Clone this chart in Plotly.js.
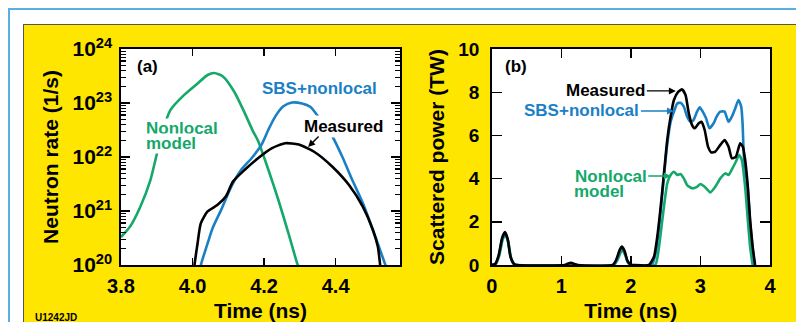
<!DOCTYPE html>
<html>
<head>
<meta charset="utf-8">
<script src="https://cdn.plot.ly/plotly-3.0.1.min.js"></script>
<style>
  html, body { margin: 0; padding: 0; background: #fff; }
  #wrap { position: relative; width: 796px; height: 322px; overflow: hidden; background: #fff; }
  #frameBlue { position: absolute; left: 8px; top: 8px; width: 900px; height: 400px; border: 2px solid #5aaee0; }
  #panelYellow { position: absolute; left: 23px; top: 24px; width: 900px; height: 400px; background: #ffe600; border-left: 1px solid #555; border-top: 1px solid #555; }
  #plot { position: absolute; left: 0; top: 0; width: 796px; height: 322px; }
</style>
</head>
<body>
<div id="wrap">
  <div id="frameBlue"></div>
  <div id="panelYellow"></div>
  <div id="plot"></div>
</div>
<script>
// ---------- Panel (a): neutron rate (1/s) vs time (ns) ----------
const a_nonlocal_t = [3.800, 3.825, 3.854, 3.882, 3.896, 3.915, 3.938, 3.976, 4.014, 4.042, 4.061, 4.085, 4.117, 4.146, 4.169, 4.183, 4.212, 4.240, 4.268, 4.292, 4.300];
const a_nonlocal_r = [3.3e20, 5.1e20, 1.2e21, 3.7e21, 8.7e21, 2.8e22, 7.4e22, 1.4e23, 2.3e23, 3.3e23, 3.6e23, 3.1e23, 1.6e23, 6.5e22, 3.0e22, 2.0e22, 5.8e21, 1.6e21, 3.9e20, 1.1e20, 8.0e19];

const a_sbs_t = [4.020, 4.025, 4.042, 4.056, 4.080, 4.108, 4.136, 4.165, 4.193, 4.212, 4.231, 4.254, 4.278, 4.306, 4.329, 4.348, 4.370, 4.391, 4.419, 4.447, 4.476, 4.504, 4.537, 4.545];
const a_sbs_r = [8.0e19, 1.1e20, 2.5e20, 4.8e20, 1.05e21, 2.8e21, 5.8e21, 9.5e21, 1.7e22, 3.2e22, 5.6e22, 8.7e22, 1.02e23, 9.8e22, 8.5e22, 6.0e22, 3.8e22, 2.4e22, 1.0e22, 3.7e21, 1.4e21, 4.5e20, 1.1e20, 8.0e19];

const a_meas_t = [4.004, 4.006, 4.014, 4.023, 4.042, 4.070, 4.094, 4.113, 4.146, 4.183, 4.221, 4.259, 4.297, 4.344, 4.391, 4.438, 4.476, 4.504, 4.518, 4.524, 4.526];
const a_meas_r = [8.0e19, 1.07e20, 2.5e20, 5.9e20, 9.8e20, 1.3e21, 1.9e21, 3.5e21, 5.8e21, 9.5e21, 1.45e22, 1.8e22, 1.7e22, 1.2e22, 6.6e21, 3.0e21, 1.2e21, 4.5e20, 2.2e20, 1.07e20, 8.0e19];

const a_xticks = [3.8, 4.0, 4.2, 4.4];
const a_xticklabels = ['3.8', '4.0', '4.2', '4.4'];
const a_yticks = [1e20, 1e21, 1e22, 1e23, 1e24];
const a_yexponents = ['20', '21', '22', '23', '24'];
const a_yminor = [2e20,3e20,4e20,5e20,6e20,7e20,8e20,9e20, 2e21,3e21,4e21,5e21,6e21,7e21,8e21,9e21, 2e22,3e22,4e22,5e22,6e22,7e22,8e22,9e22, 2e23,3e23,4e23,5e23,6e23,7e23,8e23,9e23];

// ---------- Panel (b): scattered power (TW) vs time (ns) ----------
const b_meas_t = [0, 0.05, 0.10, 0.15, 0.19, 0.23, 0.27, 0.32, 0.36, 1.05, 1.10, 1.14, 1.19, 1.24, 1.74, 1.79, 1.84, 1.87, 1.91, 1.95, 2.00, 2.05, 2.26, 2.333, 2.38, 2.429, 2.476, 2.523, 2.571, 2.619, 2.68, 2.737, 2.786, 2.833, 2.88, 2.919, 2.976, 3.014, 3.061, 3.109, 3.157, 3.214, 3.286, 3.347, 3.404, 3.452, 3.509, 3.571, 3.609, 3.643, 3.681, 3.714, 3.75, 3.786];
const b_meas_p = [0, 0.05, 0.45, 1.25, 1.52, 1.20, 0.40, 0.05, 0, 0, 0.07, 0.10, 0.05, 0, 0, 0.25, 0.70, 0.85, 0.65, 0.20, 0.02, 0, 0, 0.38, 1.31, 2.70, 4.24, 5.79, 6.87, 7.64, 8.02, 8.13, 7.87, 7.02, 6.48, 6.33, 6.56, 6.63, 6.25, 5.48, 5.21, 5.25, 5.56, 5.79, 5.48, 4.94, 5.01, 5.63, 5.48, 4.86, 3.62, 2.08, 0.85, 0];

const b_sbs_t = [0, 0.05, 0.10, 0.15, 0.19, 0.23, 0.27, 0.32, 0.36, 1.08, 1.14, 1.20, 1.75, 1.80, 1.85, 1.875, 1.91, 1.95, 2.00, 2.30, 2.36, 2.42, 2.47, 2.52, 2.57, 2.619, 2.667, 2.714, 2.761, 2.809, 2.857, 2.90, 2.951, 2.99, 3.033, 3.081, 3.129, 3.19, 3.233, 3.286, 3.347, 3.404, 3.452, 3.50, 3.547, 3.586, 3.605, 3.625, 3.65, 3.681, 3.714, 3.75, 3.78];
const b_sbs_p = [0, 0.05, 0.42, 1.20, 1.48, 1.15, 0.38, 0.04, 0, 0, 0.08, 0, 0, 0.25, 0.70, 0.80, 0.60, 0.18, 0, 0, 0.60, 2.20, 3.90, 5.50, 6.60, 7.10, 7.48, 7.51, 7.33, 6.87, 6.63, 6.71, 7.10, 7.30, 7.10, 6.79, 6.33, 6.56, 6.87, 7.10, 7.10, 6.63, 6.87, 7.25, 7.64, 7.33, 6.60, 5.00, 4.30, 3.55, 2.00, 0.80, 0];

const b_nonlocal_t = [0, 0.06, 0.11, 0.16, 0.20, 0.24, 0.28, 0.33, 0.37, 1.08, 1.14, 1.20, 1.76, 1.81, 1.86, 1.88, 1.92, 1.96, 2.01, 2.35, 2.39, 2.429, 2.476, 2.523, 2.571, 2.619, 2.667, 2.714, 2.761, 2.809, 2.88, 2.951, 3.00, 3.061, 3.143, 3.214, 3.286, 3.357, 3.404, 3.461, 3.509, 3.557, 3.595, 3.643, 3.681, 3.714, 3.75];
const b_nonlocal_p = [0, 0.05, 0.45, 1.20, 1.42, 1.05, 0.30, 0.02, 0, 0, 0.07, 0, 0, 0.25, 0.62, 0.68, 0.45, 0.10, 0, 0, 0.50, 1.47, 2.70, 3.78, 4.17, 4.32, 4.17, 4.21, 4.01, 3.70, 3.55, 3.62, 3.75, 3.62, 3.36, 3.62, 4.01, 4.24, 4.17, 4.48, 4.78, 5.09, 4.86, 3.62, 2.08, 0.85, 0];

const b_xticks = [0, 1, 2, 3, 4];
const b_yticks = [0, 2, 4, 6, 8, 10];

// ---------- styling ----------
const GREEN = '#14a86a';
const BLUE = '#1a80c6';
const BLACK = '#000000';
const FONT = 'Liberation Sans, Arial, Helvetica, sans-serif';
const W = 796, H = 322;
const lw = 2.6;

const traces = [
  {x: a_nonlocal_t, y: a_nonlocal_r, xaxis: 'x', yaxis: 'y', mode: 'lines', line: {color: GREEN, width: lw, shape: 'spline', smoothing: 0.6}, name: 'Nonlocal model'},
  {x: a_sbs_t, y: a_sbs_r, xaxis: 'x', yaxis: 'y', mode: 'lines', line: {color: BLUE, width: lw, shape: 'spline', smoothing: 0.6}, name: 'SBS+nonlocal'},
  // drawn on the overlaid log axis (same range/domain) which carries the minor ticks
  {x: a_meas_t, y: a_meas_r, xaxis: 'x', yaxis: 'y3', mode: 'lines', line: {color: BLACK, width: lw, shape: 'spline', smoothing: 0.6}, name: 'Measured'},
  {x: b_nonlocal_t, y: b_nonlocal_p, xaxis: 'x2', yaxis: 'y2', mode: 'lines', line: {color: GREEN, width: lw, shape: 'spline', smoothing: 0.5}, name: 'Nonlocal model'},
  {x: b_sbs_t, y: b_sbs_p, xaxis: 'x2', yaxis: 'y2', mode: 'lines', line: {color: BLUE, width: lw, shape: 'spline', smoothing: 0.5}, name: 'SBS+nonlocal'},
  {x: b_meas_t, y: b_meas_p, xaxis: 'x2', yaxis: 'y2', mode: 'lines', line: {color: BLACK, width: lw, shape: 'spline', smoothing: 0.5}, name: 'Measured'}
];

const ydom = [(H - 265) / H, (H - 49) / H];
const tickFont = {family: FONT, size: 20, color: '#000', weight: 700};
const titleFont = {family: FONT, size: 21, color: '#000', weight: 700};
const common = {showline: true, linecolor: '#000', linewidth: 1.6, mirror: 'ticks', ticks: 'inside', tickcolor: '#000', tickwidth: 1.4, showgrid: false, zeroline: false, tickfont: tickFont, fixedrange: true};

const labFont = (c) => ({family: FONT, size: 17, color: c, weight: 700});
const a_yticklabels = a_yexponents.map(e => '10<sup>' + e + '</sup>');

const layout = {
  width: W, height: H,
  margin: {l: 0, r: 0, t: 0, b: 0},
  paper_bgcolor: 'rgba(0,0,0,0)',
  plot_bgcolor: '#ffffff',
  showlegend: false,
  xaxis: Object.assign({}, common, {
    domain: [121 / W, 400 / W], range: [3.8, 4.58], anchor: 'y',
    tickmode: 'array', tickvals: a_xticks, ticktext: a_xticklabels, ticklen: 7,
    ticklabelstandoff: 2,
    title: {text: 'Time (ns)', font: titleFont, standoff: 10}
  }),
  yaxis: Object.assign({}, common, {
    domain: ydom, type: 'log', range: [20, 24], anchor: 'x',
    tickmode: 'array', tickvals: a_yticks, ticktext: a_yticklabels, ticklen: 9,
    tickfont: {family: FONT, size: 21, color: '#000', weight: 700},
    ticklabelstandoff: 3,
    title: {text: 'Neutron rate (1/s)', font: titleFont, standoff: 8}
  }),
  yaxis3: {
    domain: ydom, type: 'log', range: [20, 24], anchor: 'x', overlaying: 'y', side: 'left',
    tickmode: 'array', tickvals: a_yminor, ticks: 'inside', ticklen: 5, tickwidth: 1.2, tickcolor: '#000',
    showticklabels: false, showline: true, linecolor: '#000', linewidth: 1.6, mirror: 'ticks',
    showgrid: false, zeroline: false, fixedrange: true
  },
  xaxis2: Object.assign({}, common, {
    domain: [491.7 / W, 770 / W], range: [0, 4], anchor: 'y2',
    tickmode: 'array', tickvals: b_xticks, ticklen: 9,
    ticklabelstandoff: 2,
    title: {text: 'Time (ns)', font: titleFont, standoff: 10}
  }),
  yaxis2: Object.assign({}, common, {
    domain: ydom, range: [0, 10], anchor: 'x2',
    tickmode: 'array', tickvals: b_yticks, ticklen: 10,
    tickfont: {family: FONT, size: 19, color: '#000', weight: 700},
    ticklabelstandoff: 7,
    title: {text: 'Scattered power (TW)', font: titleFont, standoff: 8}
  }),
  annotations: [
    // panel (a)
    {xref: 'x', yref: 'y', x: 3.840, y: 23.67, xanchor: 'left', yanchor: 'middle', text: '(a)', showarrow: false, font: labFont(BLACK)},
    {xref: 'x', yref: 'y', x: 3.868, y: 22.537, xanchor: 'left', yanchor: 'middle', text: 'Nonlocal', showarrow: false, font: labFont(GREEN), bgcolor: '#ffffff', borderpad: 0},
    {xref: 'x', yref: 'y', x: 3.868, y: 22.241, xanchor: 'left', yanchor: 'middle', text: 'model', showarrow: false, font: labFont(GREEN), bgcolor: '#ffffff', borderpad: 0},
    {xref: 'x', yref: 'y', x: 4.355, y: 23.26, xanchor: 'center', yanchor: 'middle', text: 'SBS+nonlocal', showarrow: false, font: labFont(BLUE)},
    {xref: 'x', yref: 'y', x: 4.422, y: 22.556, xanchor: 'center', yanchor: 'middle', text: 'Measured', showarrow: false, font: labFont(BLACK), bgcolor: '#ffffff', borderpad: 1},
    {xref: 'x', yref: 'y', x: 4.323, y: 22.185, text: '', showarrow: true, ax: 12, ay: -12, arrowcolor: BLACK, arrowwidth: 1.4, arrowhead: 2, arrowsize: 1},
    // panel (b)
    {xref: 'x2', yref: 'y2', x: 0.161, y: 9.17, xanchor: 'left', yanchor: 'middle', text: '(b)', showarrow: false, font: labFont(BLACK)},
    {xref: 'x2', yref: 'y2', x: 2.647, y: 8.06, text: 'Measured', showarrow: true, ax: -70, ay: 0, arrowcolor: BLACK, arrowwidth: 1.4, arrowhead: 2, arrowsize: 1, font: labFont(BLACK)},
    {xref: 'x2', yref: 'y2', x: 2.619, y: 7.13, text: 'SBS+nonlocal', showarrow: true, ax: -92, ay: 0, arrowcolor: BLUE, arrowwidth: 1.4, arrowhead: 2, arrowsize: 1, font: labFont(BLUE)},
    {xref: 'x2', yref: 'y2', x: 2.574, y: 4.12, text: 'Nonlocal', showarrow: true, ax: -60, ay: 0, arrowcolor: GREEN, arrowwidth: 1.4, arrowhead: 2, arrowsize: 1, font: labFont(GREEN)},
    {xref: 'x2', yref: 'y2', x: 1.161, y: 3.38, xanchor: 'left', yanchor: 'middle', text: 'model', showarrow: false, font: labFont(GREEN)},
    // figure id
    {xref: 'paper', yref: 'paper', x: 33 / W, y: (H - 317) / H, xanchor: 'left', yanchor: 'middle', text: 'U1242JD', showarrow: false, font: {family: FONT, size: 10, color: '#000', weight: 700}}
  ]
};

Plotly.newPlot('plot', traces, layout, {displayModeBar: false, staticPlot: true});
</script>
</body>
</html>
